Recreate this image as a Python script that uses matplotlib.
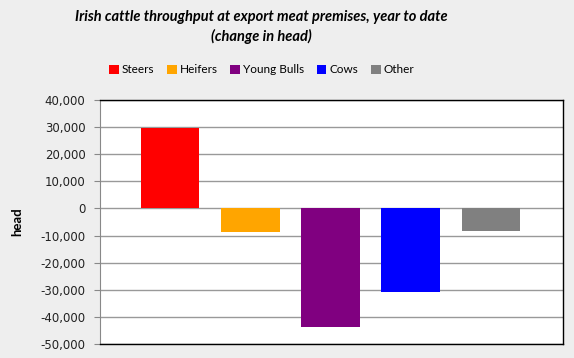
import matplotlib
matplotlib.use("Agg")
import matplotlib.pyplot as plt
from matplotlib.patches import Patch
from matplotlib.ticker import FuncFormatter
import numpy as np

categories = ["Steers", "Heifers", "Young Bulls", "Cows", "Other"]
values = [29800, -8600, -43600, -30700, -8200]
colors = ["#FF0000", "#FFA500", "#800080", "#0000FF", "#808080"]

fig = plt.figure(figsize=(5.74, 3.58), dpi=100)
fig.patch.set_facecolor("#EEEEEE")
ax = fig.add_axes([0.1742, 0.0391, 0.8066, 0.6816])
ax.set_facecolor("white")

x = np.arange(len(categories))
ax.bar(x, values, width=0.73, color=colors, zorder=3)

ax.set_xlim(-0.875, 4.9)
ax.set_ylim(-50000, 40000)
ax.set_yticks(np.arange(-50000, 40001, 10000))
ax.yaxis.set_major_formatter(FuncFormatter(lambda v, p: f"{int(v):,}"))
ax.tick_params(axis="y", labelsize=8.5, length=4.5, pad=6, color="#888888", labelcolor="#222222")
ax.set_xticks([])
ax.grid(axis="y", color="#999999", linewidth=1, zorder=0)

for s in ["top", "right", "bottom"]:
    ax.spines[s].set_color("black")
    ax.spines[s].set_linewidth(1)
ax.spines["left"].set_color("#888888")

ax.set_ylabel("head", fontsize=9.5, fontweight="bold", family="Lato", labelpad=12)

cx = 0.456
fig.text(cx, 0.952, "Irish cattle throughput at export meat premises, year to date",
         ha="center", va="center", fontsize=10.5, fontweight="bold", style="italic", family="Lato")
fig.text(cx, 0.897, "(change in head)",
         ha="center", va="center", fontsize=10.5, fontweight="bold", style="italic", family="Lato")

handles = [Patch(facecolor=c, edgecolor="none") for c in colors]
fig.legend(handles, categories, loc="center", bbox_to_anchor=(cx, 0.805), ncol=5,
           frameon=False, handlelength=0.8, handleheight=0.8,
           handletextpad=0.25, columnspacing=1.1, prop={"family": "Lato", "size": 8.5})

plt.savefig("out.png", dpi=100, facecolor=fig.get_facecolor())
